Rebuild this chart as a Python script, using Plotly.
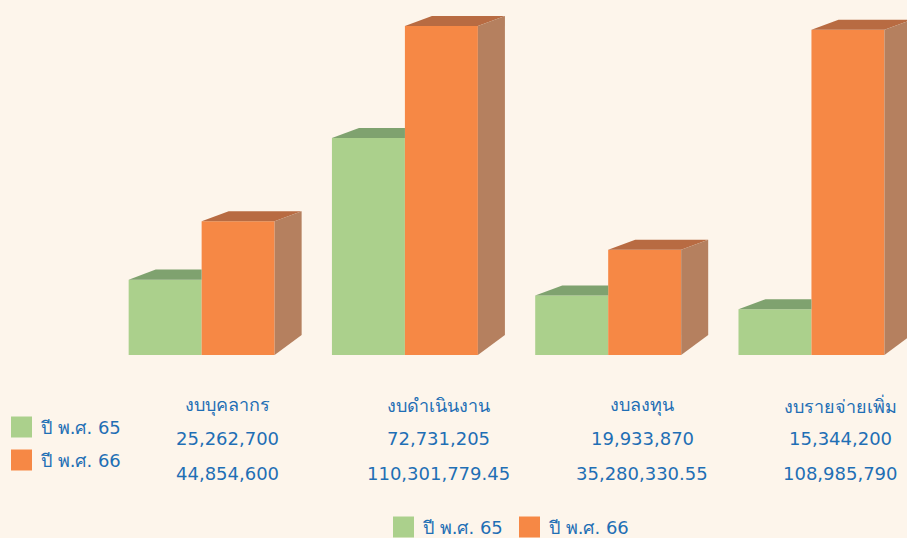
import plotly.graph_objects as go

categories = ["งบบุคลากร", "งบดำเนินงาน", "งบลงทุน", "งบรายจ่ายเพิ่ม"]
series_names = ["ปี พ.ศ. 65", "ปี พ.ศ. 66"]
values_65 = [25262700, 72731205, 19933870, 15344200]
values_66 = [44854600, 110301779.45, 35280330.55, 108985790]

BG = "#FDF5EB"
GREEN = "#ABD08C"
GREEN_TOP = "#7FA26F"
ORANGE = "#F68845"
ORANGE_TOP = "#B86B42"
ORANGE_SIDE = "#B5805F"
TEXT = "#1F6FB5"
FONT = "DejaVu Sans, Noto Sans, sans-serif"
FS = 18

W, H = 907, 538
ML, MR, MT, MB = 100, 0, 0, 183
YMAX = 119.0e6
X0, X1 = -0.5, 3.47

BW = 0.359          # bar width in category units
DX = 0.133          # depth offset (x)
DY_TOP = 3.37e6     # depth offset at top (y)
DY_BOT = 6.7e6      # depth offset at floor (y)

def fmt(v):
    s = f"{v:,.2f}"
    return s[:-3] if s.endswith(".00") else s

fig = go.Figure()
xs = list(range(len(categories)))

fig.add_trace(go.Bar(x=[x - BW / 2 for x in xs], y=values_65, width=BW, name=series_names[0],
                     marker=dict(color=GREEN, line=dict(width=0)), showlegend=False))
fig.add_trace(go.Bar(x=[x + BW / 2 for x in xs], y=values_66, width=BW, name=series_names[1],
                     marker=dict(color=ORANGE, line=dict(width=0)), showlegend=False))

# 3D faces derived from the data values
for i, (g, o) in enumerate(zip(values_65, values_66)):
    gl, gr = i - BW, i
    fig.add_trace(go.Scatter(
        x=[gl, gr, gr, gl + DX, gl], y=[g, g, g + DY_TOP, g + DY_TOP, g],
        fill="toself", fillcolor=GREEN_TOP, mode="none", showlegend=False, hoverinfo="skip"))
    ol, orr = i, i + BW
    fig.add_trace(go.Scatter(
        x=[ol, orr, orr + DX, ol + DX, ol], y=[o, o, o + DY_TOP, o + DY_TOP, o],
        fill="toself", fillcolor=ORANGE_TOP, mode="none", showlegend=False, hoverinfo="skip"))
    fig.add_trace(go.Scatter(
        x=[orr, orr + DX, orr + DX, orr, orr], y=[0, DY_BOT, o + DY_TOP, o, 0],
        fill="toself", fillcolor=ORANGE_SIDE, mode="none", showlegend=False, hoverinfo="skip"))

ph = H - MT - MB
pw = W - ML - MR

def px2paper(px, py):
    return (px - ML) / pw, (H - MB - py) / ph

annotations = []
shapes = []

col_px = [227, 438, 642, 840]
for i, c in enumerate(categories):
    for py, txt in [(405, c), (439, fmt(values_65[i])), (473, fmt(values_66[i]))]:
        xp, yp = px2paper(col_px[i], py)
        annotations.append(dict(x=xp, y=yp, xref="paper", yref="paper", text=txt, showarrow=False,
                                xanchor="center", yanchor="middle",
                                font=dict(family=FONT, size=FS, color=TEXT)))

def legend_key(px, py, col, label):
    x0p, y0p = px2paper(px, py - 10.5)
    x1p, y1p = px2paper(px + 21, py + 10.5)
    shapes.append(dict(type="rect", xref="paper", yref="paper", x0=x0p, x1=x1p, y0=y1p, y1=y0p,
                       fillcolor=col, line=dict(width=0)))
    xp, yp = px2paper(px + 28, py)
    annotations.append(dict(x=xp, y=yp, xref="paper", yref="paper", text=label, showarrow=False,
                            xanchor="left", yanchor="middle",
                            font=dict(family=FONT, size=FS, color=TEXT)))

# table legend (left)
legend_key(11, 427, GREEN, series_names[0])
legend_key(11, 460, ORANGE, series_names[1])
# chart legend (bottom)
legend_key(393, 527, GREEN, series_names[0])
legend_key(519, 527, ORANGE, series_names[1])

fig.update_layout(
    width=W, height=H,
    margin=dict(l=ML, r=MR, t=MT, b=MB),
    paper_bgcolor=BG, plot_bgcolor=BG,
    barmode="overlay",
    showlegend=False,
    xaxis=dict(range=[X0, X1], visible=False, fixedrange=True),
    yaxis=dict(range=[0, YMAX], visible=False, fixedrange=True),
    annotations=annotations, shapes=shapes,
)

fig.write_html("out.html", config={"displayModeBar": False},
               post_script="document.body.style.margin='0';document.body.style.background='%s';" % BG)
